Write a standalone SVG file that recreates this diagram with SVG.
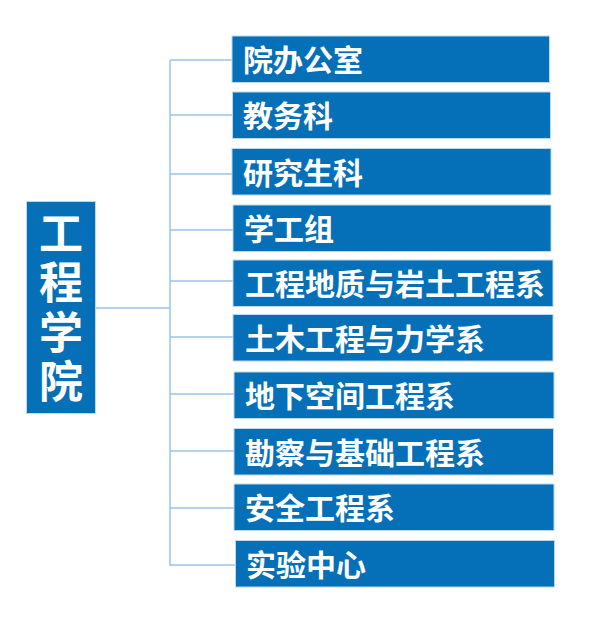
<svg xmlns="http://www.w3.org/2000/svg" width="601" height="620" viewBox="0 0 601 620">
<style>
.box{fill:#0570B8;stroke:#BDD7EE;stroke-width:1}
.lbl{font-family:"Noto Sans CJK SC","Noto Sans",sans-serif;font-weight:bold;font-size:30px;fill:#FFFFFF}
.big{font-family:"Noto Sans CJK SC","Noto Sans",sans-serif;font-weight:bold;font-size:44px;fill:#FFFFFF;writing-mode:vertical-rl;letter-spacing:5.5px}
.conn{stroke:#9DC3E6;stroke-width:1.5;fill:none}
</style>
<rect width="601" height="620" fill="#FFFFFF"/>
<g id="connectors">
<line class="conn" x1="95" y1="308" x2="170" y2="308"/>
<line class="conn" x1="170" y1="60" x2="170" y2="566"/>
<line class="conn" x1="170" y1="60" x2="232" y2="60"/>
<line class="conn" x1="170" y1="115" x2="232" y2="115"/>
<line class="conn" x1="170" y1="174" x2="232" y2="174"/>
<line class="conn" x1="170" y1="230" x2="233" y2="230"/>
<line class="conn" x1="170" y1="281" x2="233" y2="281"/>
<line class="conn" x1="170" y1="337" x2="233" y2="337"/>
<line class="conn" x1="170" y1="394" x2="234" y2="394"/>
<line class="conn" x1="170" y1="451" x2="234" y2="451"/>
<line class="conn" x1="170" y1="508" x2="234" y2="508"/>
<line class="conn" x1="170" y1="565" x2="235" y2="565"/>
</g>
<g id="root">
<rect class="box" x="26.5" y="201.5" width="69" height="212"/>
<text class="big" x="61" y="211">工程学院</text>
</g>
<g id="n1"><rect class="box" x="232" y="36" width="317.5" height="46.5"/><text class="lbl" x="243" y="71">院办公室</text></g>
<g id="n2"><rect class="box" x="232.5" y="92" width="318" height="46.5"/><text class="lbl" x="243" y="126.5">教务科</text></g>
<g id="n3"><rect class="box" x="232" y="148.5" width="319" height="46.5"/><text class="lbl" x="243" y="183.5">研究生科</text></g>
<g id="n4"><rect class="box" x="233" y="205" width="318" height="46.5"/><text class="lbl" x="244" y="239.5">学工组</text></g>
<g id="n5"><rect class="box" x="233" y="260" width="320" height="46.5"/><text class="lbl" x="245" y="295">工程地质与岩土工程系</text></g>
<g id="n6"><rect class="box" x="233" y="314.5" width="320" height="46.5"/><text class="lbl" x="245" y="349.5">土木工程与力学系</text></g>
<g id="n7"><rect class="box" x="234" y="372" width="320" height="46.5"/><text class="lbl" x="245" y="406.5">地下空间工程系</text></g>
<g id="n8"><rect class="box" x="234" y="428.5" width="319.5" height="46.5"/><text class="lbl" x="245" y="463.5">勘察与基础工程系</text></g>
<g id="n9"><rect class="box" x="234" y="484" width="320" height="46.5"/><text class="lbl" x="245" y="519">安全工程系</text></g>
<g id="n10"><rect class="box" x="235.5" y="540.5" width="319" height="46.5"/><text class="lbl" x="246" y="575.5">实验中心</text></g>
</svg>
